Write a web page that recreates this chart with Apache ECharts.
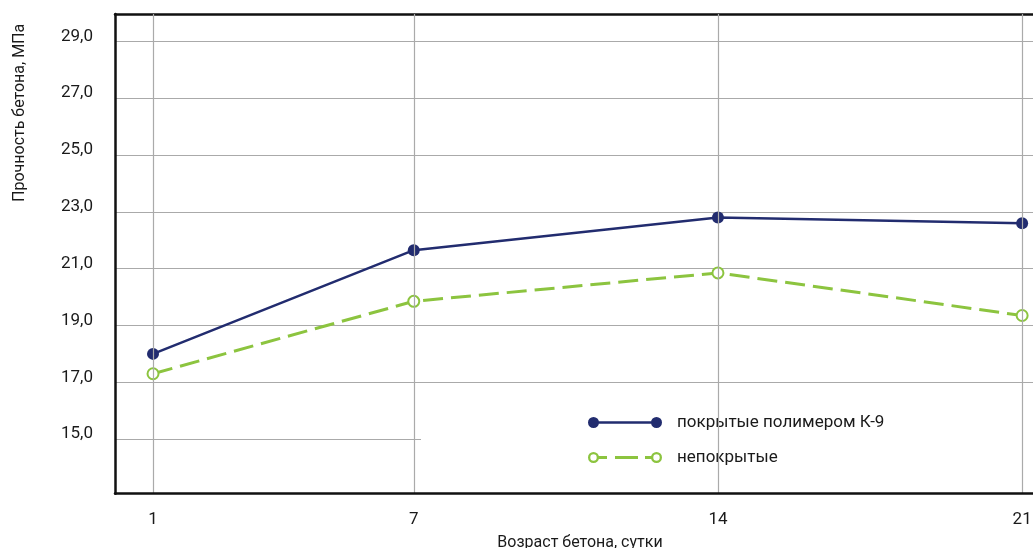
<!DOCTYPE html>
<html>
<head>
<meta charset="utf-8">
<script src="https://cdn.jsdelivr.net/npm/echarts@6/dist/echarts.min.js"></script>
<style>
html,body{margin:0;padding:0;background:#fff;}
#chart{width:1033px;height:548px;}
</style>
</head>
<body>
<div id="chart"></div>
<script>
// Data
var days = [1, 7, 14, 21];
var coated = [18.0, 21.65, 22.8, 22.6];
var uncoated = [17.3, 19.85, 20.85, 19.35];
var yTicks = [15, 17, 19, 21, 23, 25, 27, 29];
var seriesNames = ['покрытые полимером К-9', 'непокрытые'];
var xName = 'Возраст бетона, сутки';
var yName = 'Прочность бетона, МПа';

var BLUE = '#222c6f';
var GREEN = '#8cc43f';
var FONT = 'Roboto';
var TEXT = '#1a1a1a';

function pairs(xs, ys) { return xs.map(function (x, i) { return [x, ys[i]]; }); }

var iconFilled = 'path://M0,6 A5.5,5.5 0 1 1 11,6 A5.5,5.5 0 1 1 0,6 Z M63,6 A5.5,5.5 0 1 1 74,6 A5.5,5.5 0 1 1 63,6 Z M5,4.8 L69,4.8 L69,7.2 L5,7.2 Z';
var iconHollow = 'path://M0,6 A5.5,5.5 0 1 1 11,6 A5.5,5.5 0 1 1 0,6 Z M2.3,6 A3.2,3.2 0 1 0 8.7,6 A3.2,3.2 0 1 0 2.3,6 Z ' +
  'M63,6 A5.5,5.5 0 1 1 74,6 A5.5,5.5 0 1 1 63,6 Z M65.3,6 A3.2,3.2 0 1 0 71.7,6 A3.2,3.2 0 1 0 65.3,6 Z ' +
  'M10.5,4.5 L19,4.5 L19,7.5 L10.5,7.5 Z M27,4.5 L50,4.5 L50,7.5 L27,7.5 Z M57,4.5 L63.5,4.5 L63.5,7.5 L57,7.5 Z';

var chart = echarts.init(document.getElementById('chart'), null, {renderer: 'canvas'});
chart.setOption({
  backgroundColor: '#fff',
  animation: false,
  grid: {left: 115, top: 14, right: 0, bottom: 54.3, containLabel: false, outerBoundsMode: 'none'},
  legend: {
    orient: 'vertical',
    left: 421, top: 384,
    padding: [30, 200, 18, 167],
    backgroundColor: '#fff',
    itemWidth: 74, itemHeight: 11,
    itemGap: 18,
    textStyle: {fontFamily: FONT, fontSize: 17, color: TEXT, padding: [0, 0, 0, 10]},
    data: [
      {name: seriesNames[0], icon: iconFilled, itemStyle: {color: BLUE, borderWidth: 0}},
      {name: seriesNames[1], icon: iconHollow, itemStyle: {color: GREEN, borderWidth: 0}}
    ]
  },
  xAxis: [{
    type: 'value', position: 'bottom',
    min: 0.125, max: 21.25,
    name: xName, nameLocation: 'middle', nameGap: 41,
    nameTextStyle: {fontFamily: FONT, fontSize: 16, color: TEXT, padding: [0, 0, 0, 12]},
    axisLine: {show: true, lineStyle: {color: '#111', width: 2.5}},
    axisTick: {show: false, customValues: days},
    axisLabel: {customValues: days, margin: 18, fontFamily: FONT, fontSize: 17, color: TEXT},
    splitLine: {show: true, lineStyle: {color: '#aaa', width: 1.2}},
    z: 5
  }, {
    type: 'value', position: 'top',
    min: 0.125, max: 21.25,
    axisLine: {show: true, lineStyle: {color: '#111', width: 2.5}},
    axisTick: {show: false}, axisLabel: {show: false}, splitLine: {show: false}
  }],
  yAxis: {
    type: 'value',
    min: 13.08, max: 29.96,
    name: yName, nameLocation: 'middle', nameGap: 87, nameRotate: 90,
    nameTextStyle: {fontFamily: FONT, fontSize: 16, color: TEXT, padding: [0, 0, 0, 282]},
    axisLine: {show: true, lineStyle: {color: '#111', width: 2.5}},
    axisTick: {show: false, customValues: yTicks},
    axisLabel: {
      customValues: yTicks, margin: 22, fontFamily: FONT, fontSize: 17, color: TEXT,
      verticalAlign: 'bottom', lineHeight: 10,
      formatter: function (v) { return v.toFixed(1).replace('.', ','); }
    },
    splitLine: {show: true, lineStyle: {color: '#aaa', width: 1.2}}
  },
  series: [{
    name: seriesNames[0], type: 'line', xAxisIndex: 0,
    data: pairs(days, coated),
    symbol: 'circle', symbolSize: 12,
    itemStyle: {color: BLUE},
    lineStyle: {color: BLUE, width: 2.5},
    z: 3
  }, {
    name: seriesNames[1], type: 'line', xAxisIndex: 0,
    data: pairs(days, uncoated),
    symbol: 'emptyCircle', symbolSize: 11,
    itemStyle: {color: GREEN, borderWidth: 2.5, borderColor: GREEN},
    lineStyle: {color: GREEN, width: 3, type: [20, 8]},
    z: 2
  }]
});
</script>
</body>
</html>
